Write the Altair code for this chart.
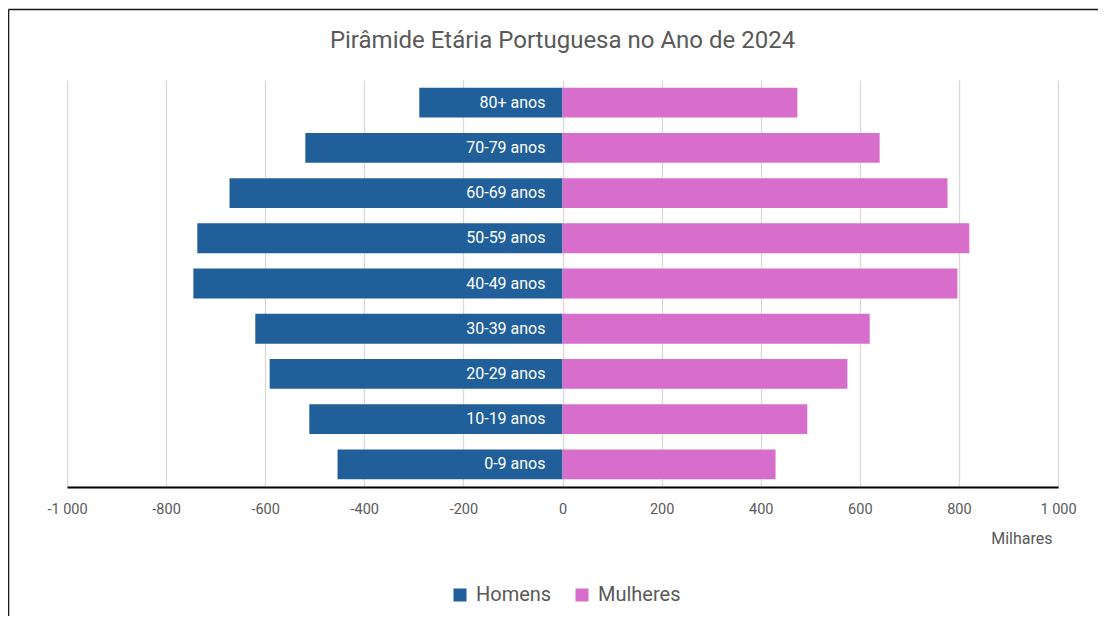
import altair as alt
import pandas as pd

groups = ["80+ anos", "70-79 anos", "60-69 anos", "50-59 anos", "40-49 anos",
          "30-39 anos", "20-29 anos", "10-19 anos", "0-9 anos"]
homens = [289, 519, 672, 737, 745, 620, 591, 511, 454]
mulheres = [474, 640, 777, 821, 797, 620, 575, 494, 430]
sexes = ["Homens", "Mulheres"]
colors = ["#215F9A", "#D86ECC"]
x_ticks = [-1000, -800, -600, -400, -200, 0, 200, 400, 600, 800, 1000]

rows = []
for g, h, m in zip(groups, homens, mulheres):
    rows.append({"grupo": g, "sexo": "Homens", "valor": -h})
    rows.append({"grupo": g, "sexo": "Mulheres", "valor": m})
df = pd.DataFrame(rows)
labels = pd.DataFrame({"grupo": groups, "zero": [0] * len(groups)})

FONT = "Roboto"
GRAY = "#595959"

xscale = alt.Scale(domain=[-1000, 1000], nice=False)
yenc = alt.Y("grupo:N", sort=groups, axis=None,
             scale=alt.Scale(paddingInner=0.34, paddingOuter=0.17))

bars = alt.Chart(df).mark_bar().encode(
    x=alt.X("valor:Q", scale=xscale,
            axis=alt.Axis(values=x_ticks, grid=True, gridColor="#D9D9D9", gridWidth=1.3,
                          domain=True, domainColor="#000000", domainWidth=2,
                          ticks=False, labelPadding=15, labelFontSize=14.5, labelColor=GRAY,
                          labelFont=FONT, labelFlush=False,
                          labelExpr="(datum.value < 0 ? '-' : '') + replace(format(abs(datum.value), ','), ',', ' ')",
                          title="Milhares", titleAnchor="end", titleAlign="right",
                          titleBaseline="middle",
                          titleFontWeight="normal", titleFontSize=16, titleColor=GRAY,
                          titleFont=FONT, titleX=985, titleY=51)),
    y=yenc,
    color=alt.Color("sexo:N", scale=alt.Scale(domain=sexes, range=colors),
                    legend=alt.Legend(title=None, orient="none", direction="horizontal",
                                      legendX=383, legendY=505, symbolType="square",
                                      symbolSize=170, labelFontSize=20, labelColor=GRAY,
                                      labelFont=FONT, columnPadding=20, symbolOffset=0,
                                      labelOffset=6)),
)

text = alt.Chart(labels).mark_text(align="right", baseline="middle", dx=-17,
                                   color="white", fontSize=16, font=FONT).encode(
    x=alt.X("zero:Q", scale=xscale),
    y=yenc,
    text="grupo:N",
)

frame_df = pd.DataFrame({"k": [0]})
frame_top = alt.Chart(frame_df).mark_rule(color="#1a1a1a", strokeWidth=1.6).encode(
    x=alt.value(-58.5), x2=alt.value(1040), y=alt.value(-70.5))
frame_left = alt.Chart(frame_df).mark_rule(color="#1a1a1a", strokeWidth=1.6).encode(
    x=alt.value(-58.5), y=alt.value(-70.5), y2=alt.value(540))

chart = alt.layer(bars, text, frame_top, frame_left).properties(
    width=991, height=407,
    background="white",
    title=alt.TitleParams("Pirâmide Etária Portuguesa no Ano de 2024", fontSize=24,
                          font=FONT, fontWeight="normal", color=GRAY, anchor="middle",
                          offset=-44),
    padding={"left": 59, "top": 72, "right": 40, "bottom": 129},
    autosize=alt.AutoSizeParams(type="none"),
).configure_view(stroke="transparent", strokeWidth=0)

chart.save("out.html", embed_options={"renderer": "svg", "actions": False})
